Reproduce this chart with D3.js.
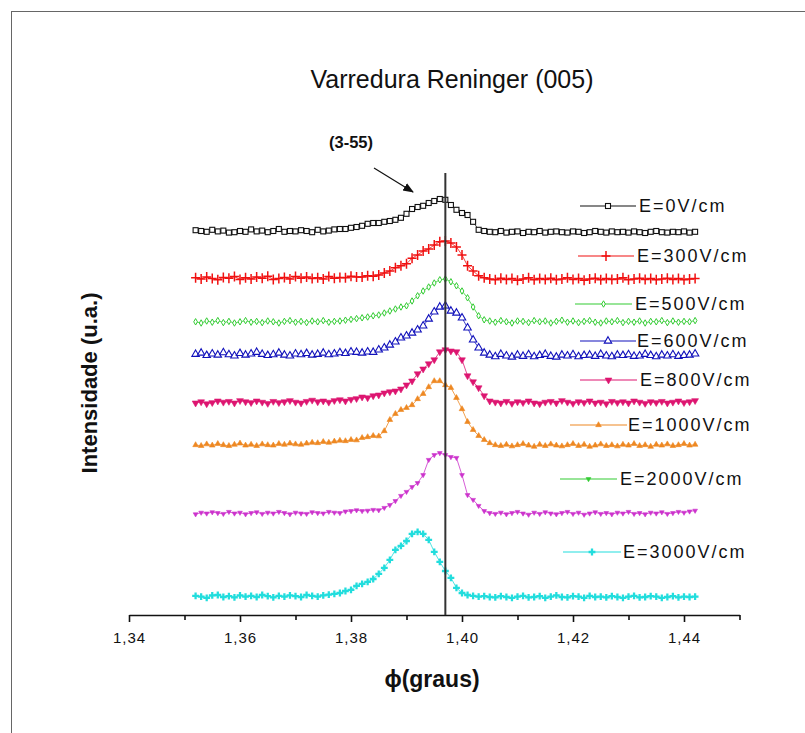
<!DOCTYPE html>
<html>
<head>
<meta charset="utf-8">
<script src="https://cdn.jsdelivr.net/npm/d3@7"></script>
<style>
  body { margin: 0; background: #fff; }
  svg text { font-family: "Liberation Sans", Arial, sans-serif; fill: #111; }
</style>
</head>
<body>
<div class="chart"></div>
<script>
(function () {
    'use strict';

    /* dados (u.a., curvas já deslocadas) */
    const phiStart = 1.352;
    const phiStep = 0.001;

    const e0 = [96.2, 96.0, 95.8, 96.3, 95.9, 96.1, 95.6, 95.7, 96.0, 95.8,
        96.4, 95.9, 96.1, 95.7, 96.0, 96.5, 95.8, 96.0, 95.9, 96.2,
        96.0, 95.7, 96.3, 95.9, 96.1, 96.4,
        96.5, 96.5, 96.8, 97.0, 97.3, 97.8, 98.0, 98.0, 98.3, 98.5, 98.8, 99.3, 100.3, 101.5,
        102.0, 102.3, 103.0, 103.5, 104.0, 103.8, 102.5, 101.3, 100.5, 100.0, 98.3, 96.3, 96.0,
        95.8, 95.7, 96.0, 95.6, 95.8, 95.9, 95.5, 95.8, 95.7, 96.0,
        95.6, 95.8, 95.9, 95.7, 95.6, 95.9, 95.8, 95.5, 95.7, 96.0,
        95.8, 95.6, 95.9, 95.7, 95.8, 95.6, 95.9, 95.7, 95.5, 95.8,
        96.0, 95.7, 95.6, 95.8, 95.7, 95.9, 95.6, 95.8];
    const e300 = [84.3, 84.0, 84.5, 84.1, 83.8, 84.4, 84.2, 84.6, 83.9, 84.3,
        84.0, 84.5, 84.2, 84.7, 83.9, 84.1, 84.4, 84.0, 84.6, 84.2,
        84.5, 84.1, 84.3, 84.0, 84.6, 84.2, 84.4, 84.3, 84.7, 84.5,
        84.5, 84.8, 84.7, 85.0, 85.5, 86.0, 86.8, 87.3, 87.8, 89.2,
        90.0, 91.0, 91.5, 92.5, 93.3, 93.5, 93.0, 92.0, 90.0, 87.3,
        86.0, 84.8, 84.3,
        84.0, 83.8, 84.2, 83.9, 84.1, 83.7, 84.0, 84.3, 83.8, 84.1,
        83.9, 84.2, 83.8, 84.0, 84.3, 83.9, 84.1, 83.7, 84.0, 84.2,
        83.8, 84.1, 83.9, 84.0, 84.3, 83.8, 84.0, 84.2, 83.9, 84.1,
        83.8, 84.0, 84.2, 83.9, 84.1, 83.8, 84.0, 84.1];
    const e500 = [73.3, 73.0, 73.5, 73.2, 73.6, 73.1, 73.4, 73.0, 73.3, 73.6,
        73.2, 73.4, 73.1, 73.5, 73.3, 73.0, 73.4, 73.6, 73.2, 73.4,
        73.1, 73.5, 73.3, 73.6, 73.2, 73.4, 73.5, 73.7, 73.9, 74.1,
        74.3, 74.5, 74.8, 75.0, 75.5, 76.0, 76.5, 77.0, 77.3, 78.5,
        79.8, 81.0, 82.0, 83.0, 83.8, 84.0, 83.3, 82.3, 81.0, 79.3,
        77.0, 74.8, 73.8,
        73.5, 73.2, 73.6, 73.3, 73.0, 73.5, 73.4, 73.1, 73.6, 73.3,
        73.5, 73.0, 73.4, 73.7, 73.2, 73.5, 73.1, 73.4, 73.6, 73.2,
        73.0, 73.5, 73.3, 73.6, 73.1, 73.4, 73.2, 73.5, 73.0, 73.4,
        73.3, 73.6, 73.1, 73.5, 73.2, 73.4, 73.3, 73.6];
    const e600 = [65.2, 65.5, 64.9, 65.3, 65.0, 65.6, 65.1, 64.8, 65.4, 65.0,
        65.3, 65.7, 65.2, 64.9, 65.1, 65.5, 65.0, 64.8, 65.3, 65.1,
        65.4, 65.0, 65.2, 65.5, 65.1, 65.3, 65.6, 65.4, 65.8, 65.7,
        65.5, 65.8, 65.7, 66.3, 66.8, 67.5, 68.3, 69.3, 69.8, 70.5,
        71.3, 72.3, 74.0, 75.8, 77.0, 77.3, 76.0, 75.5, 74.3, 71.8,
        68.8, 66.8, 65.5,
        65.0, 64.6, 65.2, 64.8, 64.5, 65.0, 64.7, 65.1, 64.6, 64.9,
        65.2, 64.7, 64.5, 65.0, 64.8, 65.1, 64.6, 64.9, 65.0, 64.7,
        65.2, 64.8, 64.6, 65.0, 64.9, 65.1, 64.7, 64.8, 65.2, 64.9,
        64.6, 65.0, 64.8, 65.1, 64.7, 64.9, 65.0, 65.3];
    const e800 = [53.0, 53.3, 52.8, 53.1, 53.5, 53.2, 53.4, 53.0, 53.6, 53.3,
        53.1, 53.5, 53.2, 52.9, 53.4, 53.1, 53.3, 53.6, 53.2, 53.0,
        53.4, 53.7, 53.3, 53.5, 53.2, 53.6, 53.8, 53.5, 53.9, 54.1,
        54.5, 54.3, 54.8, 55.0, 55.5, 55.8, 56.0, 56.5, 57.5, 58.5,
        60.3, 61.5, 62.8, 63.8, 65.8, 66.3, 66.0, 65.8, 63.8, 59.8,
        58.3, 56.8, 54.8, 53.5,
        53.2, 53.0, 53.4, 52.9, 53.3, 53.1, 53.5, 53.0, 52.8, 53.2,
        53.4, 53.0, 53.6, 53.2, 52.9, 53.3, 53.1, 53.5, 53.0, 53.2,
        52.8, 53.4, 53.1, 53.3, 53.0, 53.5, 53.2, 52.9, 53.3, 53.1,
        53.4, 53.0, 53.2, 53.5, 53.1, 53.3, 53.6];
    const e1000 = [42.5, 42.3, 42.7, 42.4, 42.8, 42.5, 42.3, 42.6, 42.9, 42.4,
        42.6, 42.3, 42.7, 42.5, 42.4, 42.8, 42.6, 42.9, 42.7, 42.6,
        42.9, 43.1, 43.0, 43.3, 43.1, 43.4, 43.6, 43.5, 43.8, 43.7,
        44.3, 44.5, 44.8, 44.7, 46.0, 48.8, 50.3, 51.3, 51.8, 52.5,
        54.0, 55.3, 57.0, 58.5, 58.5, 57.5, 56.8, 54.3, 51.5, 48.3,
        46.3, 44.8, 43.8, 43.0, 42.5,
        42.3, 42.6, 42.2, 42.5, 42.8, 42.4, 42.1, 42.6, 42.3, 42.7,
        42.4, 42.2, 42.5, 42.8, 42.3, 42.6, 42.1, 42.4, 42.7, 42.3,
        42.5, 42.2, 42.6, 42.4, 42.8, 42.3, 42.5, 42.1, 42.6, 42.4,
        42.7, 42.3, 42.5, 42.8, 42.4, 42.6];
    const e2000 = [25.2, 25.6, 25.4, 25.7, 25.5, 25.3, 25.8, 25.4, 25.6, 25.2,
        25.5, 25.7, 25.3, 25.6, 25.4, 25.8, 25.5, 25.2, 25.6, 25.4,
        25.3, 25.7, 25.5, 25.4, 25.8, 25.6, 25.5, 25.9, 26.0, 26.2,
        26.0, 26.1, 26.3, 26.2, 26.8, 27.5, 28.5, 29.8, 30.8, 32.0,
        33.0, 35.0, 38.8, 40.0, 40.5, 40.0, 39.5, 39.3, 35.0, 30.0,
        28.8, 27.3, 26.0, 25.5,
        25.3, 25.6, 25.2, 25.5, 25.8, 25.4, 25.1, 25.6, 25.3, 25.7,
        25.4, 25.2, 25.5, 25.8, 25.3, 25.6, 25.1, 25.4, 25.7, 25.3,
        25.5, 25.2, 25.6, 25.4, 25.8, 25.3, 25.5, 25.2, 25.6, 25.4,
        25.7, 25.3, 25.5, 25.8, 25.6, 25.9, 26.1];
    const e3000 = [4.8, 4.6, 4.3, 4.9, 5.0, 4.5, 4.7, 4.4, 4.9, 4.6,
        4.8, 4.5, 5.0, 4.7, 4.4, 4.8, 4.6, 4.9, 4.7, 4.5,
        5.0, 4.8, 4.6, 4.9, 5.1, 5.3,
        5.5, 6.0, 6.3, 7.3, 7.8, 8.3, 9.0, 10.3, 11.8, 13.8,
        16.3, 17.3, 18.5, 20.3, 20.8, 20.3, 18.8, 15.8, 13.3, 11.0,
        9.3, 6.8, 5.5, 5.0, 4.8, 4.6, 4.7, 4.5,
        4.4, 4.7, 4.5, 4.3, 4.6, 4.8, 4.4, 4.5, 4.7, 4.3,
        4.6, 4.9, 4.5, 4.4, 4.7, 4.6, 4.3, 4.8, 4.5, 4.6,
        4.4, 4.7, 4.5, 4.3, 4.6, 4.8, 4.4, 4.5, 4.7, 4.6,
        4.3, 4.5, 4.7, 4.4, 4.6, 4.5, 4.6];

    const seriesValues = [e0, e300, e500, e600, e800, e1000, e2000, e3000];
    const seriesNames = ['E=0V/cm', 'E=300V/cm', 'E=500V/cm', 'E=600V/cm',
        'E=800V/cm', 'E=1000V/cm', 'E=2000V/cm', 'E=3000V/cm'];
    const seriesColors = ['#111111', '#f01010', '#33cc33', '#1111bb',
        '#dd1570', '#ee8822', '#cc33cc', '#22dddd'];
    /* na legenda original, o traço de E=2000 aparece verde */
    const legendColors = ['#111111', '#f01010', '#33cc33', '#1111bb',
        '#dd1570', '#ee8822', '#33cc33', '#22dddd'];
    const markerTypes = ['square', 'plus', 'diamond', 'triangle',
        'triangleDown', 'triangleFill', 'smallDown', 'cross'];

    const majorTicks = [1.34, 1.36, 1.38, 1.40, 1.42, 1.44];
    const minorTicks = [1.35, 1.37, 1.39, 1.41, 1.43, 1.45];
    const peakPhi = 1.397;

    /* layout */
    const W = 805, H = 733;
    const svg = d3.select('.chart').append('svg')
        .attr('width', W).attr('height', H);

    svg.append('rect').attr('x', 11.5).attr('y', 11.5)
        .attr('width', 900).attr('height', 900)
        .attr('fill', 'none').attr('stroke', '#666').attr('stroke-width', 1);

    const x = d3.scaleLinear().domain([1.34, 1.45]).range([129, 739.5]);
    const y = d3.scaleLinear().domain([0, 110]).range([615, 175]);

    /* título */
    svg.append('text').text('Varredura Reninger (005)')
        .attr('x', 452).attr('y', 88)
        .attr('text-anchor', 'middle')
        .style('font-size', '25px');

    /* eixo x */
    const fmt = function (d) { return d3.format('.2f')(d).replace('.', ','); };
    const xAxis = svg.append('g').attr('class', 'x-axis')
        .attr('transform', 'translate(0,615)')
        .call(d3.axisBottom(x).tickValues(majorTicks).tickFormat(fmt)
            .tickSize(7).tickSizeOuter(0).tickPadding(10));
    xAxis.select('.domain').attr('stroke', '#111').attr('stroke-width', 1.6);
    xAxis.selectAll('.tick line').attr('stroke', '#111').attr('stroke-width', 1.6);
    xAxis.selectAll('.tick text')
        .style('font-size', '15px').style('letter-spacing', '1px')
        .style('font-family', '"Liberation Sans", Arial, sans-serif')
        .attr('fill', '#111');
    const xMinor = svg.append('g').attr('transform', 'translate(0,615)')
        .call(d3.axisBottom(x).tickValues(minorTicks).tickFormat('').tickSize(5).tickSizeOuter(0));
    xMinor.select('.domain').remove();
    xMinor.selectAll('.tick line').attr('stroke', '#111').attr('stroke-width', 1.6);

    svg.append('text').text('\u03d5(graus)')
        .attr('x', 432).attr('y', 687)
        .attr('text-anchor', 'middle')
        .style('font-size', '23px').style('font-weight', 700);

    svg.append('text').text('Intensidade (u.a.)')
        .attr('transform', 'translate(97,383) rotate(-90)')
        .attr('text-anchor', 'middle')
        .style('font-size', '22px').style('font-weight', 700);

    /* marcadores */
    function drawMarker(g, type, color) {
        const sym = d3.symbol();
        if (type === 'square') {
            g.append('rect').attr('x', -2.5).attr('y', -2.5).attr('width', 5).attr('height', 5)
                .attr('fill', '#fff').attr('stroke', color).attr('stroke-width', 1.1);
        } else if (type === 'plus') {
            g.append('path').attr('d', 'M-4.5,0H4.5M0,-5V5')
                .attr('stroke', color).attr('stroke-width', 1.5).attr('fill', 'none');
        } else if (type === 'diamond') {
            g.append('path').attr('d', sym.type(d3.symbolDiamond).size(12)())
                .attr('fill', '#fff').attr('stroke', color).attr('stroke-width', 1);
        } else if (type === 'triangle') {
            g.append('path').attr('d', sym.type(d3.symbolTriangle).size(24)())
                .attr('fill', '#fff').attr('stroke', color).attr('stroke-width', 1.1);
        } else if (type === 'triangleDown') {
            g.append('path').attr('d', sym.type(d3.symbolTriangle).size(20)())
                .attr('transform', 'rotate(180)')
                .attr('fill', color).attr('stroke', color).attr('stroke-width', 0.6);
        } else if (type === 'triangleFill') {
            g.append('path').attr('d', sym.type(d3.symbolTriangle).size(14)())
                .attr('fill', color).attr('stroke', color).attr('stroke-width', 0.6);
        } else if (type === 'smallDown') {
            g.append('path').attr('d', sym.type(d3.symbolTriangle).size(10)())
                .attr('transform', 'rotate(180)')
                .attr('fill', color).attr('stroke', color).attr('stroke-width', 0.6);
        } else {
            g.append('path').attr('d', sym.type(d3.symbolCross).size(26)())
                .attr('fill', color);
        }
    }

    const line = d3.line()
        .x(function (d) { return x(d.phi); })
        .y(function (d) { return y(d.v); });

    const plot = svg.append('g').attr('class', 'plot');

    seriesValues.forEach(function (vals, s) {
        const pts = vals.map(function (v, i) {
            return { phi: phiStart + i * phiStep, v: v };
        });
        plot.append('path').datum(pts)
            .attr('d', line)
            .attr('fill', 'none')
            .attr('stroke', seriesColors[s])
            .attr('stroke-width', 0.8);
        plot.selectAll('.m' + s).data(pts).enter().append('g')
            .attr('class', 'm' + s)
            .attr('transform', function (d) {
                return 'translate(' + x(d.phi) + ',' + y(d.v) + ')';
            })
            .each(function () {
                drawMarker(d3.select(this), markerTypes[s], seriesColors[s]);
            });
    });

    /* linha vertical no pico */
    svg.append('line')
        .attr('x1', x(peakPhi)).attr('x2', x(peakPhi))
        .attr('y1', y(0)).attr('y2', y(110.5))
        .attr('stroke', '#333').attr('stroke-width', 2);

    /* anotação (3-55) */
    svg.append('defs').append('marker')
        .attr('id', 'arrow').attr('viewBox', '0 0 10 10')
        .attr('refX', 9).attr('refY', 5)
        .attr('markerWidth', 9).attr('markerHeight', 9)
        .attr('orient', 'auto')
        .append('path').attr('d', 'M0,1L10,5L0,9z').attr('fill', '#111');
    svg.append('line')
        .attr('x1', 374).attr('y1', 168).attr('x2', 413).attr('y2', 192)
        .attr('stroke', '#111').attr('stroke-width', 1.2)
        .attr('marker-end', 'url(#arrow)');
    svg.append('text').text('(3-55)')
        .attr('x', 329).attr('y', 148)
        .style('font-size', '16.5px').style('font-weight', 700);

    /* legenda */
    const legendLayout = [
        { x1: 580, x2: 636, tx: 639, y: 206 },
        { x1: 578, x2: 634, tx: 637, y: 256 },
        { x1: 575, x2: 632, tx: 635, y: 304 },
        { x1: 580, x2: 636, tx: 637, y: 341 },
        { x1: 580, x2: 637, tx: 640, y: 380 },
        { x1: 570, x2: 627, tx: 628, y: 425 },
        { x1: 560, x2: 617, tx: 620, y: 479 },
        { x1: 563, x2: 621, tx: 623, y: 552 }
    ];
    const legend = svg.append('g').attr('class', 'legend');
    seriesNames.forEach(function (name, s) {
        const L = legendLayout[s];
        legend.append('line')
            .attr('x1', L.x1).attr('x2', L.x2).attr('y1', L.y).attr('y2', L.y)
            .attr('stroke', legendColors[s]).attr('stroke-width', 1.2);
        const g = legend.append('g')
            .attr('transform', 'translate(' + ((L.x1 + L.x2) / 2) + ',' + L.y + ')');
        drawMarker(g, markerTypes[s], legendColors[s]);
        legend.append('text').text(name)
            .attr('x', L.tx).attr('y', L.y)
            .attr('dy', '0.36em')
            .style('font-size', '18px').style('letter-spacing', '2px');
    });
}());
</script>
</body>
</html>
